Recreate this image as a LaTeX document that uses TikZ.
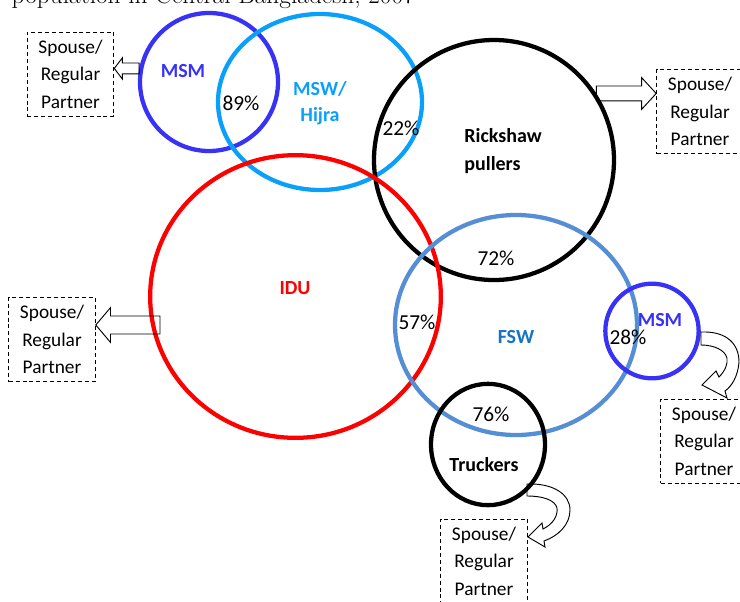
\documentclass[tikz,border=0pt]{standalone}
\usepackage{fontspec}
\newfontfamily\calibri{Carlito}
\usetikzlibrary{calc,shapes.geometric}

\definecolor{msmblue}{RGB}{55,50,245}
\definecolor{mswblue}{RGB}{10,160,250}
\definecolor{fswblue}{RGB}{85,142,213}
\definecolor{fswtext}{RGB}{20,115,195}

\tikzset{
  ring/.style={draw, ellipse, line width=3.2pt, inner sep=0pt},
  partner/.style={draw, dash pattern=on 3pt off 2.2pt, line width=0.7pt, align=center,
    minimum width=65pt, minimum height=63pt, inner sep=0pt,
    font=\calibri\fontsize{14.5}{20.6}\selectfont},
  pct/.style={font=\calibri\fontsize{16}{19}\selectfont},
  grp/.style={font=\calibri\bfseries\fontsize{15}{21}\selectfont, align=center},
  hollow/.style n args={3}{draw, line width=0.7pt,
    to path={let \p1=(\tikztostart), \p2=(\tikztotarget) in
      (\x1,{\y1+#1}) -- ({\x2-sign(\x2-\x1)*#3},{\y1+#1})
      -- ({\x2-sign(\x2-\x1)*#3},{\y1+#2}) -- (\x2,\y1)
      -- ({\x2-sign(\x2-\x1)*#3},{\y1-#2}) -- ({\x2-sign(\x2-\x1)*#3},{\y1-#1})
      -- (\x1,{\y1-#1}) -- cycle}},
  bentarrow/.style={draw, line width=0.7pt}
}

\begin{document}
\begin{tikzpicture}[x=0.75pt,y=-0.75pt]
\useasboundingbox (0,0) rectangle (740,601);

\node (title) at (7,3.5) [anchor=base west, font=\fontsize{19}{22}\selectfont] {population in Central Bangladesh, 2007};

% groups
\node (msm1) at (209,82) [ring, draw=msmblue, minimum width=103.5pt, minimum height=103.5pt] {};
\node (msw) at (320,102) [ring, draw=mswblue, minimum width=153pt, minimum height=132pt] {};
\node (rick) at (494,160) [ring, minimum width=180pt, minimum height=180pt] {};
\node (idu) at (295.5,296.5) [ring, draw=red, minimum width=218pt, minimum height=212pt] {};
\node (fsw) at (516,325) [ring, draw=fswblue, minimum width=181.5pt, minimum height=165pt] {};
\node (msm2) at (652,331) [ring, draw=msmblue, minimum width=70pt, minimum height=71pt] {};
\node (truck) at (488,444.5) [ring, minimum width=85.5pt, minimum height=91pt] {};

\node (msm1-t) at (183,71) [grp, text=msmblue] {MSM};
\node (msw-t) at (320,103) [grp, text=mswblue, font=\calibri\bfseries\fontsize{15}{19}\selectfont] {MSW/\\Hijra};
\node (rick-t) at (503,151) [grp, align=left] {Rickshaw\\pullers};
\node (idu-t) at (295,288) [grp, text=red] {IDU};
\node (fsw-t) at (516,337) [grp, text=fswtext] {FSW};
\node (msm2-t) at (660,320) [grp, text=msmblue] {MSM};
\node (truck-t) at (484,465) [grp] {Truckers};

% overlaps
\node (p89) at (241,103) [pct] {89\%};
\node (p22) at (401,128) [pct] {22\%};
\node (p72) at (496,258) [pct] {72\%};
\node (p57) at (417,322) [pct] {57\%};
\node (p28) at (628,337) [pct] {28\%};
\node (p76) at (491,414) [pct] {76\%};

% partners
\node (sp1) at (70.5,74) [partner] {Spouse/\\Regular\\Partner};
\node (sp2) at (700,111.5) [partner] {Spouse/\\Regular\\Partner};
\node (sp3) at (52,339.5) [partner] {Spouse/\\Regular\\Partner};
\node (sp4) at (704,441) [partner] {Spouse/\\Regular\\Partner};
\node (sp5) at (484,561) [partner] {Spouse/\\Regular\\Partner};

\coordinate (idu-in) at (160,325);
\draw [hollow={4.1pt}{7.9pt}{6pt}] (msm1.169) to (sp1.east);
\draw [hollow={5.6pt}{12pt}{11pt}] (rick.33) to (sp2.west);
\draw [hollow={6.75pt}{13pt}{11pt}] (idu-in) to (sp3.east);

\draw [bentarrow] (701,332) .. controls (728,331) and (739,345) .. (739,362)
  .. controls (738,376) and (732,386) .. (725,391) -- (727,398) -- (702,385)
  -- (716,371) -- (719,377) .. controls (725,371) and (728,364) .. (727,358)
  .. controls (725,350) and (714,345) .. (701,345) -- cycle;
\draw [bentarrow] (527,484) .. controls (553,483) and (570,494) .. (570,510)
  .. controls (570,525) and (558,536) .. (544,541) -- (545,547) -- (528,537)
  -- (542,523) -- (543,529) .. controls (553,524) and (558,516) .. (557,508)
  .. controls (555,500) and (543,496) .. (527,496) -- cycle;

\end{tikzpicture}
\end{document}
